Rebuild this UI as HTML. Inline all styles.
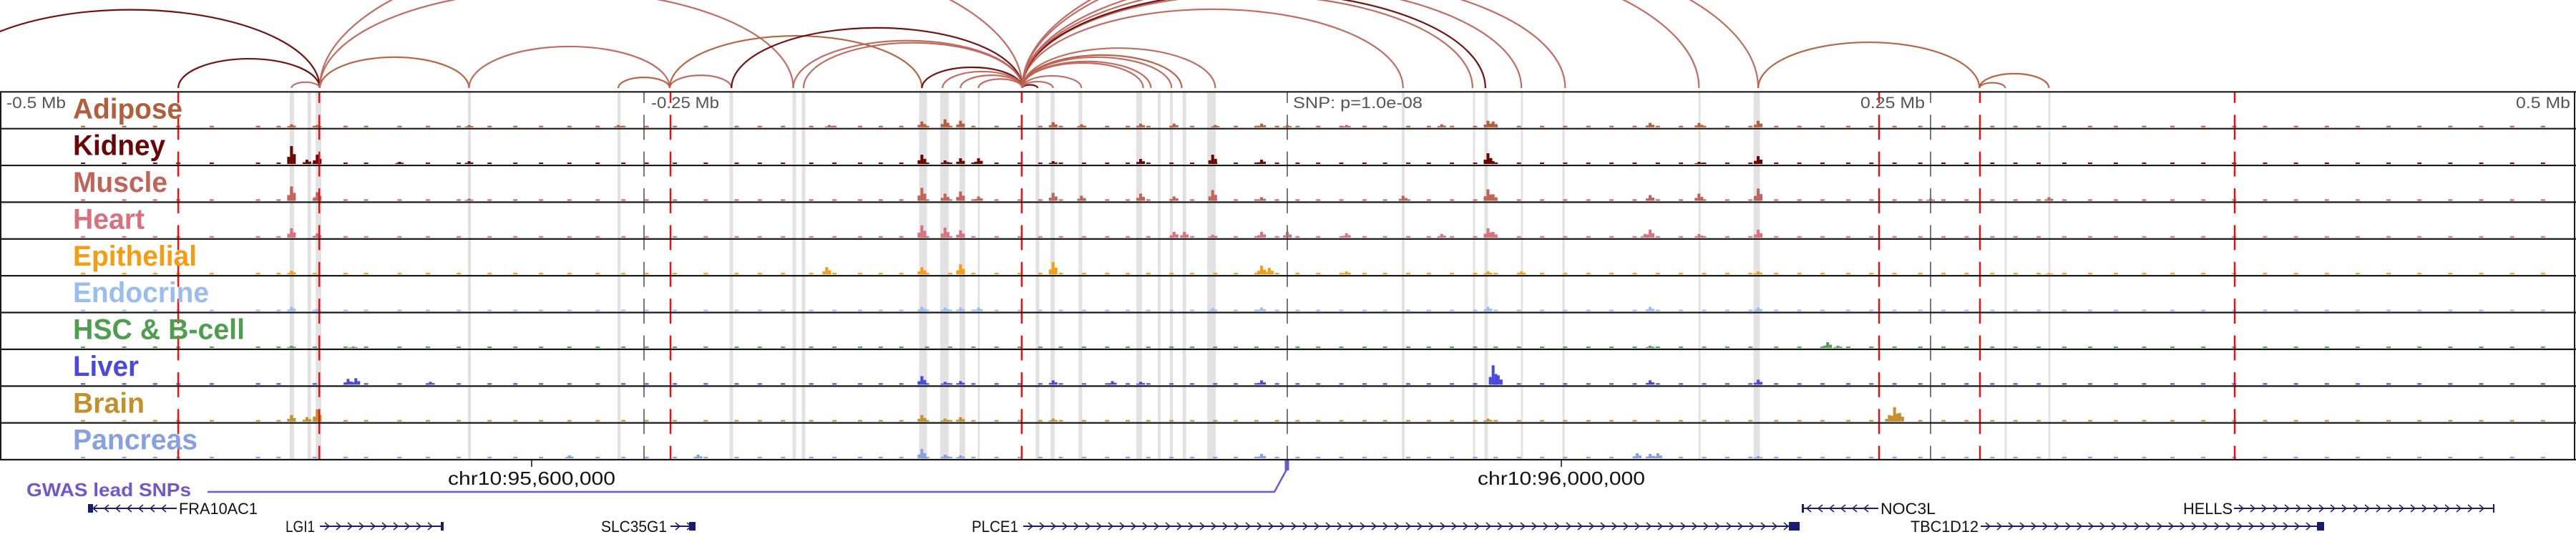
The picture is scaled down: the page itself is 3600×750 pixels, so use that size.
<!DOCTYPE html>
<html><head><meta charset="utf-8"><style>
html,body{margin:0;padding:0;background:#fff;}
svg{display:block;font-family:"Liberation Sans",sans-serif;}
</style></head><body>
<svg id="chart" width="3600" height="750" viewBox="0 0 3600 750" xmlns="http://www.w3.org/2000/svg">
<g id="bands"></g>
<g id="arcs"></g>
<g id="signals"></g>
<g id="vlines"></g>
<g id="frame"></g>
<g id="labels"></g>
<g id="genes"></g>
</svg>
<script>
// ---- data ----
const tissueNames = ["Adipose","Kidney","Muscle","Heart","Epithelial","Endocrine","HSC & B-cell","Liver","Brain","Pancreas"];
const bandStartKb = [-387.7,-380.8,-377.6,-318.4,-260.3,-216.8,-192.3,-188.7,-143.1,-134.9,-127.4,-120.3,-97.8,-92.0,-81.1,-58.7,-50.3,-45.6,-40.7,-31.1,44.5,72.2,76.6,90.8,106.9,159.8,181.2,278.8,295.8];
const bandEndKb   = [-386.0,-379.4,-375.4,-317.3,-259.1,-215.4,-190.9,-187.3,-140.0,-131.6,-125.2,-119.5,-96.4,-90.4,-79.7,-56.5,-49.2,-44.5,-39.3,-27.8,45.6,73.0,78.0,91.6,107.8,160.6,183.7,279.6,296.6];
const leadSnpKb = [-431,-376.2,-239.7,-103.2,230.0,269.2,368.2];
const axisTickKb = [-250,0,250];
const arcStartKb = [-523,-431,-387,-376,-376,-376,-318,-260,-240,-240,-216,-192,-188,-142,-134,-127,-120,-103,-103,-103,-103,-103,-103,-103,-103,-103,-103,-103,-103,-103,-103,-103,183,269,269];
const arcEndKb   = [-376,-376,-376,-103,-318,-192,-240,-240,-216,-142,-103,-103,-103,-103,-103,-103,-103,-97,-91,-80,-56,-53,-45,-41,-28,45,72,77,91,108,160,183,269,279,296];
const arcTissue  = [1,1,2,2,0,2,2,0,2,0,1,2,2,1,2,2,2,1,2,2,2,2,2,0,2,2,2,1,2,2,2,2,0,0,0];
const backgroundKb = [-468,-452,-440,-431,-418,-400,-392,-378,-366,-358,-345,-334,-322,-310,-300,-290,-279,-268,-258,-249,-238,-226,-214,-205,-196,-185,-176,-166,-158,-150,-140,-131,-122,-113,-104,-96,-88,-79,-70,-62,-54,-45,-37,-28,-20,-12,-4,4,12,21,30,38,47,55,64,73,81,90,99,108,117,126,135,144,153,162,171,180,190,199,208,218,227,236,246,255,264,274,283,292,302,312,322,333,344,356,368,380,392,404,416,428,440,452,464,476,488];
const adiposeKb = [-387,-377,-318,-260,-178,-142,-133,-127,-91,-80,-57,-44,-28,-10,0,23,60,78,80,141,160,183];
const adiposeH  = [4,3,3,3,3,8,11,9,7,4,5,5,3,5,3,3,4,9,8,6,6,9];
const kidneyKb = [-387,-381,-377,-345,-318,-142,-133,-127,-120,-91,-57,-29,-10,78,80,160,183];
const kidneyH  = [25,6,13,3,4,13,5,8,8,4,7,13,6,15,4,3,11];
const muscleKb = [-387,-377,-318,-142,-133,-127,-120,-91,-80,-57,-44,-29,-10,45,78,80,141,160,183,250,296];
const muscleH  = [20,12,3,18,10,13,6,11,7,10,6,15,5,7,16,9,8,10,17,3,5];
const heartKb = [-387,-377,-142,-133,-127,-44,-40,-29,-10,0,23,60,78,80,139,141,160,183];
const heartH  = [13,6,17,14,10,8,8,4,8,8,6,5,13,8,5,11,5,11];
const epithelialKb = [-387,-179,-142,-127,-91,-10,-7,23,78,91,183,296];
const epithelialH  = [5,10,10,14,17,12,9,4,4,4,4,2];
const endocrineKb = [-387,-377,-142,-133,-127,-120,-29,-10,78,141,183];
const endocrineH  = [6,3,6,5,5,5,4,5,6,6,5];
const hscKb = [-387,-363,141,210,214];
const hscH  = [3,2,3,8,3];
const liverKb = [-365,-362,-333,-142,-133,-127,-91,-68,-57,-10,80,82,141,183];
const liverH  = [8,9,4,12,4,5,6,5,4,6,27,13,6,7];
const brainKb = [-387,-381,-377,-142,-133,-127,-91,78,234,236,238];
const brainH  = [9,6,17,9,4,6,4,4,9,20,12];
const pancreasKb = [-279,-229,-142,-133,-127,-10,136,141,144,183];
const pancreasH  = [4,5,13,5,4,6,7,6,7,3];

// ---- scales ----
const NS="http://www.w3.org/2000/svg";
const TOP=128.3, ROWH=51.37, NROWS=10, XMID=1799, PXKB=3.596;
function x(kb){return XMID+kb*PXKB;}
function rowTop(i){return TOP+i*ROWH;}
function yH(v){return Math.min(v,ROWH-8);}
function mk(tag,attrs,parent){const e=document.createElementNS(NS,tag);for(const k in attrs)e.setAttribute(k,attrs[k]);parent.appendChild(e);return e;}
const colors=["#b35d3a","#6b0505","#c0645a","#d8707e","#f59c12","#99bdf2","#4f9e4f","#4a48dd","#c4902e","#86a0e2"];

// bands
const gB=document.getElementById('bands');
for(let i=0;i<bandStartKb.length;i++){
  const r=mk('rect',{x:x(bandStartKb[i]),y:TOP,width:Math.max(2.5,x(bandEndKb[i])-x(bandStartKb[i])),height:ROWH*NROWS,fill:'#e2e2e2'},gB);
  
  
}

// arcs
const gA=document.getElementById('arcs');
const BASE=123;
for(let i=0;i<arcStartKb.length;i++){
  const x1=x(arcStartKb[i]),x2=x(arcEndKb[i]);
  const rx=(x2-x1)/2, ry=(x2-x1)*0.207;
  const p=mk('path',{d:`M${x1},${BASE} A${rx},${ry} 0 0 1 ${x2},${BASE}`,fill:'none',stroke:colors[arcTissue[i]],'stroke-width':2.2,opacity:0.95},gA);
  
  
}

// signals
const gS=document.getElementById('signals');
const peakKb=[adiposeKb,kidneyKb,muscleKb,heartKb,epithelialKb,endocrineKb,hscKb,liverKb,brainKb,pancreasKb];
const peakH=[adiposeH,kidneyH,muscleH,heartH,epithelialH,endocrineH,hscH,liverH,brainH,pancreasH];
for(let t=0;t<NROWS;t++){
  const g=mk('g',{},gS);
  
  
  const base=rowTop(t+1)-2;
  for(const kb of backgroundKb){
    mk('rect',{x:x(kb)-3,y:base-2,width:6,height:2,fill:colors[t]},g);
  }
  for(let j=0;j<peakKb[t].length;j++){
    const cx=x(peakKb[t][j]),h=yH(peakH[t][j]);
    mk('rect',{x:cx-2,y:base-h,width:4,height:h,fill:colors[t]},g);
    mk('rect',{x:cx-6,y:base-h*0.4,width:4,height:h*0.4,fill:colors[t]},g);
    mk('rect',{x:cx+2,y:base-h*0.55,width:4,height:h*0.55,fill:colors[t]},g);
  }
}

// vertical lines
const gV=document.getElementById('vlines');
function brokenLine(px,color,w,name){
  for(let i=0;i<NROWS;i++){
    const t=rowTop(i);
    let l=mk('line',{x1:px,x2:px,y1:t,y2:t+15.5,stroke:color,'stroke-width':w},gV);
    
    
    l=mk('line',{x1:px,x2:px,y1:t+32,y2:t+ROWH,stroke:color,'stroke-width':w},gV);
    
    
  }
}
for(const kb of axisTickKb) brokenLine(x(kb),'#777',2,'axis-marker-line');
for(const kb of leadSnpKb) brokenLine(x(kb),'#e81010',2.5,'lead-snp-line');

// frame
const gF=document.getElementById('frame');
for(let i=0;i<=NROWS;i++){
  const l=mk('line',{x1:0,x2:3600,y1:rowTop(i),y2:rowTop(i),stroke:'#1a1a1a','stroke-width':2.2},gF);
  
  
}
mk('line',{x1:1,x2:1,y1:TOP,y2:rowTop(NROWS),stroke:'#1a1a1a','stroke-width':2},gF);
mk('line',{x1:3598,x2:3598,y1:TOP,y2:rowTop(NROWS),stroke:'#1a1a1a','stroke-width':2},gF);

// tissue labels
const gL=document.getElementById('labels');
const labelW=[153,129,132,100,173,190,240,92,100,174];
for(let i=0;i<NROWS;i++){
  const tx=mk('text',{x:102,y:rowTop(i)+37,'font-size':40,'font-weight':'bold',fill:colors[i],textLength:labelW[i],lengthAdjust:'spacingAndGlyphs'},gL);
  tx.textContent=tissueNames[i];
  
  
}
</script>
<script>
// axis text, genes, gwas (static annotations)
(function(){
const NS="http://www.w3.org/2000/svg";
const svg=document.getElementById('labels');
function t(str,xx,yy,fs,fill,w,name,anchor){
  const e=document.createElementNS(NS,'text');
  e.setAttribute('x',xx);e.setAttribute('y',yy);e.setAttribute('font-size',fs);e.setAttribute('fill',fill);
  if(w){e.setAttribute('textLength',w);e.setAttribute('lengthAdjust','spacingAndGlyphs');}
  if(anchor)e.setAttribute('text-anchor',anchor);
  e.textContent=str;
  
  
  svg.appendChild(e);return e;
}
t('-0.5 Mb',9,151,22,'#555',83,'axis-label-left');
t('-0.25 Mb',910,151,22,'#555',95,'axis-label-minus-quarter');
t('SNP: p=1.0e-08',1807,151,22,'#555',181,'snp-pvalue-label');
t('0.25 Mb',2600,151,22,'#555',90,'axis-label-quarter');
t('0.5 Mb',3516,151,22,'#555',76,'axis-label-right');

const g=document.getElementById('genes');
function mk(tag,a){const e=document.createElementNS(NS,tag);for(const k in a)e.setAttribute(k,a[k]);g.appendChild(e);return e;}
// chromosome ticks & labels
[743,2182].forEach(px=>{mk('line',{x1:px,x2:px,y1:642,y2:652,stroke:'#111','stroke-width':1.5});});
const c1=mk('text',{x:743,y:677,'font-size':26,'text-anchor':'middle',fill:'#111',textLength:234,lengthAdjust:'spacingAndGlyphs'});c1.textContent='chr10:95,600,000';

const c2=mk('text',{x:2182,y:677,'font-size':26,'text-anchor':'middle',fill:'#111',textLength:234,lengthAdjust:'spacingAndGlyphs'});c2.textContent='chr10:96,000,000';

// GWAS
const gw=mk('text',{x:37,y:693,'font-size':26,'font-weight':'bold',fill:'#6a5acd',textLength:230,lengthAdjust:'spacingAndGlyphs'});gw.textContent='GWAS lead SNPs';

const pl=mk('polyline',{points:'290,687 1781,687 1798,656',fill:'none',stroke:'#6a5acd','stroke-width':2.5});

const sn=mk('rect',{x:1795.5,y:643,width:6,height:14,fill:'#6a5acd'});

// genes
const genes=[
 {n:'FRA10AC1',x1:123,x2:247,y:710,dir:-1,lx:250,lw:110,blk:[123,130]},
 {n:'LGI1',x1:447,x2:620,y:735,dir:1,lx:399,lw:41,blk:[616,620]},
 {n:'SLC35G1',x1:937,x2:972,y:735,dir:1,lx:840,lw:92,blk:[963,972]},
 {n:'PLCE1',x1:1430,x2:2515,y:735,dir:1,lx:1358,lw:65,blk:[2500,2515]},
 {n:'NOC3L',x1:2518,x2:2625,y:710,dir:-1,lx:2628,lw:77,blk:[2518,2521]},
 {n:'HELLS',x1:3122,x2:3486,y:710,dir:1,lx:3051,lw:69,blk:[3484,3486]},
 {n:'TBC1D12',x1:2768,x2:3248,y:735,dir:1,lx:2670,lw:95,blk:[3238,3248]}
];
genes.forEach(G=>{
  const gg=document.createElementNS(NS,'g');g.appendChild(gg);
  
  
  function a(tag,at){const e=document.createElementNS(NS,tag);for(const k in at)e.setAttribute(k,at[k]);gg.appendChild(e);return e;}
  a('line',{x1:G.x1,x2:G.x2,y1:G.y,y2:G.y,stroke:'#1c1c6e','stroke-width':2});
  for(let p=G.x1+10;p<G.x2-6;p+=16){
    a('polyline',{points:`${p-3*G.dir},${G.y-5} ${p+3*G.dir},${G.y} ${p-3*G.dir},${G.y+5}`,fill:'none',stroke:'#1c1c6e','stroke-width':1.5});
  }
  a('rect',{x:G.blk[0],y:G.y-6,width:G.blk[1]-G.blk[0],height:12,fill:'#1c1c6e'});
  const tx=a('text',{x:G.lx,y:G.y+8,'font-size':22,fill:'#111',textLength:G.lw,lengthAdjust:'spacingAndGlyphs'});
  tx.textContent=G.n;
});
})();
</script>
</body></html>
